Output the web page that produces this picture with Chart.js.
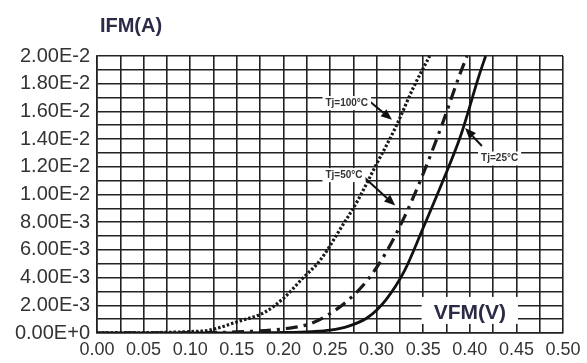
<!DOCTYPE html>
<html>
<head>
<meta charset="utf-8">
<script src="https://cdn.jsdelivr.net/npm/chart.js@4.4.0/dist/chart.umd.min.js"></script>
<style>
  html, body { margin: 0; padding: 0; background: #fff; }
  #wrap { width: 587px; height: 363px; position: relative; }
</style>
</head>
<body>
<div id="wrap"><canvas id="c" width="587" height="363"></canvas></div>
<script>
// ---- Data (VFM in volts, IFM in amperes) ----
const v100 = [0, 0.05, 0.10, 0.12, 0.15, 0.18, 0.20, 0.22, 0.24, 0.26, 0.28, 0.30, 0.32, 0.34, 0.357];
const i100 = [0, 0.00002, 0.0001, 0.0002, 0.0008, 0.0015, 0.0025, 0.0039, 0.0053, 0.0074, 0.0096, 0.0122, 0.0148, 0.0178, 0.0200];

const v50 = [0, 0.10, 0.15, 0.20, 0.23, 0.25, 0.27, 0.29, 0.31, 0.33, 0.35, 0.37, 0.39, 0.397];
const i50 = [0, 0.00002, 0.00008, 0.0003, 0.0007, 0.0014, 0.0024, 0.0038, 0.0058, 0.0084, 0.0115, 0.0150, 0.0188, 0.0200];

const v25 = [0, 0.15, 0.20, 0.23, 0.25, 0.27, 0.29, 0.31, 0.33, 0.35, 0.37, 0.39, 0.41, 0.417];
const i25 = [0, 0.00001, 0.00004, 0.0001, 0.0002, 0.0005, 0.0011, 0.0024, 0.0045, 0.0076, 0.0108, 0.0142, 0.0186, 0.0200];

const seriesNames = ['Tj=100°C', 'Tj=50°C', 'Tj=25°C'];
const yAxisTitle = 'IFM(A)';
const xAxisTitle = 'VFM(V)';

const xMin = 0, xMax = 0.5, xStep = 0.025;
const yMin = 0, yMax = 0.02, yStep = 0.001;

// annotation anchors in data units
const annLabelV = [0.268, 0.265, 0.432];
const annLabelI = [0.0166, 0.0114, 0.0126];
const annFromV = [0.293, 0.284, 0.413];
const annFromI = [0.0167, 0.0114, 0.0135];
const annTipV = [0.3165, 0.320, 0.395];
const annTipI = [0.0154, 0.0092, 0.0148];
const xTitleV = 0.400, xTitleI = 0.00145;

function pts(vs, is) { return vs.map((v, k) => ({ x: v, y: is[k] })); }

const GRID = '#222';

const overlay = {
  id: 'overlay',
  afterDatasetsDraw(chart) {
    const ctx = chart.ctx;
    const xs = chart.scales.x, ys = chart.scales.y;
    ctx.save();
    ctx.font = 'bold 21px "Liberation Sans", Arial, sans-serif';
    const tx = xs.getPixelForValue(xTitleV), ty = ys.getPixelForValue(xTitleI);
    const tw = ctx.measureText(xAxisTitle).width;
    ctx.fillStyle = '#fff';
    ctx.fillRect(tx - tw / 2 - 12, ty - 16, tw + 24, 27);
    ctx.fillStyle = '#2b2b48';
    ctx.textAlign = 'center';
    ctx.textBaseline = 'middle';
    ctx.fillText(xAxisTitle, tx, ty);

    for (let k = 0; k < seriesNames.length; k++) {
      const fx = xs.getPixelForValue(annFromV[k]), fy = ys.getPixelForValue(annFromI[k]);
      const px = xs.getPixelForValue(annTipV[k]), py = ys.getPixelForValue(annTipI[k]);
      const ang = Math.atan2(py - fy, px - fx);
      const hl = 11, hw = 4.5;
      const bx = px - hl * Math.cos(ang), by = py - hl * Math.sin(ang);
      ctx.strokeStyle = '#111';
      ctx.lineWidth = 2;
      ctx.beginPath();
      ctx.moveTo(fx, fy);
      ctx.lineTo(bx, by);
      ctx.stroke();
      ctx.fillStyle = '#111';
      ctx.beginPath();
      ctx.moveTo(px, py);
      ctx.lineTo(bx + hw * Math.sin(ang), by - hw * Math.cos(ang));
      ctx.lineTo(bx - hw * Math.sin(ang), by + hw * Math.cos(ang));
      ctx.closePath();
      ctx.fill();

      const lx = xs.getPixelForValue(annLabelV[k]), ly = ys.getPixelForValue(annLabelI[k]);
      ctx.font = 'bold 10px "Liberation Sans", Arial, sans-serif';
      const w = ctx.measureText(seriesNames[k]).width;
      ctx.fillStyle = '#fff';
      ctx.fillRect(lx - w / 2 - 3, ly - 7, w + 6, 14);
      ctx.fillStyle = '#333';
      ctx.textAlign = 'center';
      ctx.textBaseline = 'middle';
      ctx.fillText(seriesNames[k], lx, ly);
    }
    ctx.restore();
  },
  afterDraw(chart) {
    const ctx = chart.ctx;
    ctx.save();
    ctx.font = 'bold 20px "Liberation Sans", Arial, sans-serif';
    ctx.fillStyle = '#2b2b48';
    ctx.textAlign = 'center';
    ctx.textBaseline = 'middle';
    ctx.fillText(yAxisTitle, chart.chartArea.left + 34, chart.chartArea.top - 30);
    ctx.restore();
  }
};

new Chart(document.getElementById('c'), {
  type: 'scatter',
  data: {
    datasets: [
      { label: seriesNames[0], data: pts(v100, i100), showLine: true, borderColor: '#1a1a1a', borderWidth: 3.2,
        borderDash: [2.5, 2], pointRadius: 0, tension: 0.4, cubicInterpolationMode: 'monotone' },
      { label: seriesNames[1], data: pts(v50, i50), showLine: true, borderColor: '#1a1a1a', borderWidth: 3.2,
        borderDash: [12, 6, 3, 6], pointRadius: 0, tension: 0.4, cubicInterpolationMode: 'monotone' },
      { label: seriesNames[2], data: pts(v25, i25), showLine: true, borderColor: '#111', borderWidth: 2.8,
        pointRadius: 0, tension: 0.4, cubicInterpolationMode: 'monotone' }
    ]
  },
  options: {
    responsive: false,
    animation: false,
    layout: { padding: { top: 56, right: 24, left: 0, bottom: 0 } },
    plugins: { legend: { display: false }, title: { display: false }, tooltip: { enabled: false } },
    scales: {
      x: {
        type: 'linear', min: xMin, max: xMax,
        border: { display: true, color: GRID, width: 1.6 },
        grid: { color: GRID, lineWidth: 1.6, drawTicks: false },
        ticks: {
          stepSize: xStep, autoSkip: false, maxRotation: 0, minRotation: 0, padding: 6,
          color: '#333', font: { family: '"Liberation Sans", Arial, sans-serif', size: 18 },
          callback: (v) => (Math.round(v / xStep) % 2 === 0 ? v.toFixed(2) : '')
        },
        afterFit: (s) => { s.height = 30; }
      },
      y: {
        type: 'linear', min: yMin, max: yMax,
        border: { display: true, color: GRID, width: 1.6 },
        grid: { color: GRID, lineWidth: 1.6, drawTicks: false },
        ticks: {
          stepSize: yStep, autoSkip: false, padding: 7,
          color: '#333', font: { family: '"Liberation Sans", Arial, sans-serif', size: 20 },
          callback: (v) => (Math.round(v / yStep) % 2 === 0 ? Number(v).toExponential(2).toUpperCase() : '')
        },
        afterFit: (s) => { s.width = 97; }
      }
    }
  },
  plugins: [overlay]
});
</script>
</body>
</html>
